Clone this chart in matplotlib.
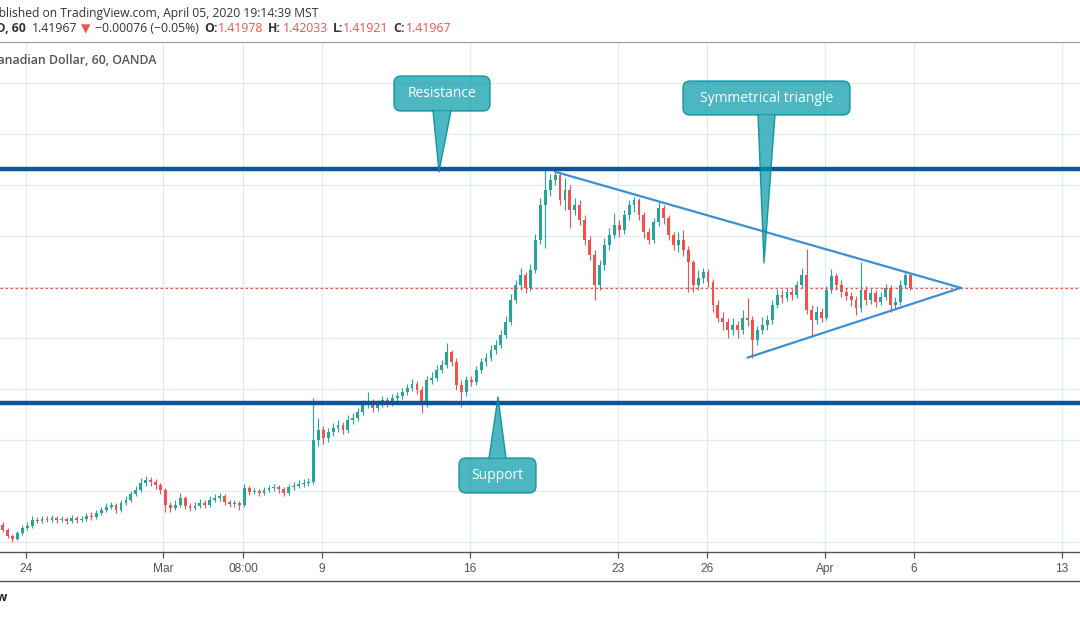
import matplotlib
matplotlib.use("Agg")
import matplotlib.pyplot as plt
import matplotlib.transforms as mtransforms
from matplotlib.patches import FancyBboxPatch, Polygon
from matplotlib.lines import Line2D

# ---------------- data (4-hour candles) ----------------
first_open = 1.3268
closes = [
    1.3248, 1.3225, 1.3213, 1.3237, 1.3256, 1.3264, 1.3288, 1.3284, 1.3291, 1.3288,
    1.3295, 1.3288, 1.3291, 1.3284, 1.3295, 1.3288, 1.3291, 1.3303, 1.3299, 1.3315,
    1.3327, 1.3338, 1.3346, 1.3327, 1.3354, 1.3366, 1.3389, 1.3405, 1.3432, 1.3444,
    1.3436, 1.3425, 1.3405, 1.3346, 1.3334, 1.3346, 1.3374, 1.3342, 1.3334, 1.3342,
    1.3354, 1.3346, 1.3366, 1.3374, 1.3381, 1.3358, 1.3350, 1.3354, 1.3346, 1.3413,
    1.3397, 1.3401, 1.3393, 1.3405, 1.3413, 1.3417, 1.3409, 1.3393, 1.3417, 1.3421,
    1.3428, 1.3432, 1.3436, 1.3601, 1.3640, 1.3609, 1.3633, 1.3648, 1.3660, 1.3640,
    1.3680, 1.3688, 1.3711, 1.3738, 1.3750, 1.3727, 1.3742, 1.3758, 1.3746, 1.3766,
    1.3774, 1.3789, 1.3805, 1.3821, 1.3797, 1.3738, 1.3836, 1.3844, 1.3876, 1.3895,
    1.3946, 1.3907, 1.3817, 1.3789, 1.3836, 1.3829, 1.3876, 1.3907, 1.3923, 1.3954,
    1.3974, 1.4013, 1.4064, 1.4150, 1.4209, 1.4248, 1.4197, 1.4268, 1.4385, 1.4523,
    1.4581, 1.4620, 1.4640, 1.4542, 1.4581, 1.4503, 1.4523, 1.4464, 1.4385, 1.4327,
    1.4209, 1.4287, 1.4366, 1.4405, 1.4444, 1.4424, 1.4483, 1.4523, 1.4542, 1.4483,
    1.4417, 1.4385, 1.4456, 1.4511, 1.4472, 1.4405, 1.4366, 1.4385, 1.4346, 1.4299,
    1.4209, 1.4236, 1.4260, 1.4221, 1.4130, 1.4080, 1.4064, 1.4032, 1.4052, 1.4032,
    1.4080, 1.4072, 1.3993, 1.4032, 1.4052, 1.4072, 1.4130, 1.4170, 1.4158, 1.4181,
    1.4170, 1.4209, 1.4248, 1.4111, 1.4072, 1.4103, 1.4080, 1.4189, 1.4244, 1.4209,
    1.4181, 1.4166, 1.4150, 1.4119, 1.4189, 1.4150, 1.4178, 1.4142, 1.4162, 1.4197,
    1.4130, 1.4142, 1.4209, 1.4248, 1.41967,
]
highs = [
    1.3280, 1.3256, 1.3233, 1.3244, 1.3268, 1.3280, 1.3303, 1.3299, 1.3303, 1.3303,
    1.3307, 1.3303, 1.3303, 1.3299, 1.3307, 1.3303, 1.3303, 1.3315, 1.3319, 1.3327,
    1.3338, 1.3354, 1.3358, 1.3354, 1.3366, 1.3381, 1.3401, 1.3421, 1.3452, 1.3460,
    1.3456, 1.3448, 1.3432, 1.3413, 1.3358, 1.3366, 1.3393, 1.3381, 1.3354, 1.3358,
    1.3370, 1.3366, 1.3381, 1.3389, 1.3393, 1.3389, 1.3366, 1.3366, 1.3362, 1.3428,
    1.3421, 1.3413, 1.3409, 1.3417, 1.3425, 1.3428, 1.3425, 1.3417, 1.3428, 1.3436,
    1.3444, 1.3448, 1.3452, 1.3766, 1.3688, 1.3656, 1.3648, 1.3668, 1.3680, 1.3672,
    1.3699, 1.3707, 1.3727, 1.3758, 1.3789, 1.3762, 1.3758, 1.3774, 1.3770, 1.3782,
    1.3789, 1.3805, 1.3821, 1.3840, 1.3833, 1.3813, 1.3852, 1.3868, 1.3895, 1.3915,
    1.3982, 1.3954, 1.3923, 1.3836, 1.3852, 1.3852, 1.3891, 1.3923, 1.3942, 1.3974,
    1.3993, 1.4032, 1.4087, 1.4174, 1.4228, 1.4276, 1.4260, 1.4291, 1.4409, 1.4550,
    1.4660, 1.4644, 1.4671, 1.4652, 1.4628, 1.4601, 1.4550, 1.4542, 1.4483, 1.4401,
    1.4346, 1.4307, 1.4393, 1.4432, 1.4491, 1.4464, 1.4503, 1.4542, 1.4554, 1.4550,
    1.4495, 1.4432, 1.4472, 1.4534, 1.4523, 1.4483, 1.4417, 1.4417, 1.4424, 1.4362,
    1.4307, 1.4268, 1.4276, 1.4272, 1.4232, 1.4150, 1.4103, 1.4080, 1.4080, 1.4068,
    1.4111, 1.4158, 1.4087, 1.4048, 1.4083, 1.4091, 1.4150, 1.4193, 1.4189, 1.4197,
    1.4193, 1.4225, 1.4276, 1.4350, 1.4130, 1.4127, 1.4119, 1.4205, 1.4272, 1.4256,
    1.4228, 1.4197, 1.4181, 1.4166, 1.4299, 1.4205, 1.4197, 1.4189, 1.4181, 1.4213,
    1.4209, 1.4162, 1.4228, 1.4260, 1.4256,
]
lows = [
    1.3240, 1.3217, 1.3201, 1.3209, 1.3229, 1.3248, 1.3256, 1.3276, 1.3276, 1.3280,
    1.3280, 1.3276, 1.3280, 1.3272, 1.3276, 1.3276, 1.3280, 1.3284, 1.3288, 1.3291,
    1.3307, 1.3319, 1.3331, 1.3315, 1.3319, 1.3346, 1.3358, 1.3381, 1.3397, 1.3421,
    1.3421, 1.3409, 1.3389, 1.3319, 1.3319, 1.3327, 1.3338, 1.3331, 1.3323, 1.3327,
    1.3334, 1.3334, 1.3338, 1.3358, 1.3362, 1.3346, 1.3338, 1.3338, 1.3327, 1.3338,
    1.3385, 1.3389, 1.3381, 1.3385, 1.3397, 1.3401, 1.3393, 1.3381, 1.3385, 1.3405,
    1.3413, 1.3417, 1.3421, 1.3428, 1.3578, 1.3586, 1.3593, 1.3617, 1.3633, 1.3625,
    1.3629, 1.3664, 1.3676, 1.3699, 1.3727, 1.3711, 1.3715, 1.3731, 1.3731, 1.3735,
    1.3750, 1.3762, 1.3778, 1.3793, 1.3782, 1.3707, 1.3731, 1.3821, 1.3833, 1.3864,
    1.3884, 1.3891, 1.3797, 1.3731, 1.3774, 1.3813, 1.3817, 1.3864, 1.3891, 1.3911,
    1.3938, 1.3962, 1.4001, 1.4052, 1.4138, 1.4189, 1.4178, 1.4185, 1.4256, 1.4370,
    1.4354, 1.4558, 1.4601, 1.4523, 1.4503, 1.4432, 1.4483, 1.4444, 1.4366, 1.4307,
    1.4150, 1.4189, 1.4268, 1.4346, 1.4393, 1.4397, 1.4409, 1.4464, 1.4495, 1.4464,
    1.4393, 1.4370, 1.4374, 1.4440, 1.4448, 1.4385, 1.4346, 1.4338, 1.4323, 1.4181,
    1.4181, 1.4189, 1.4217, 1.4201, 1.4103, 1.4064, 1.4032, 1.4001, 1.4013, 1.4001,
    1.4017, 1.4048, 1.3923, 1.3974, 1.4017, 1.4032, 1.4056, 1.4119, 1.4138, 1.4146,
    1.4150, 1.4158, 1.4197, 1.4095, 1.4005, 1.4056, 1.4064, 1.4072, 1.4178, 1.4189,
    1.4162, 1.4150, 1.4127, 1.4091, 1.4103, 1.4130, 1.4134, 1.4123, 1.4130, 1.4150,
    1.4103, 1.4119, 1.4130, 1.4197, 1.4189,
]
first_bar = -19          # hourly-bar index of the first 4h candle (Feb 24 00:00 = 0)
bar_step = 4

tick_bars = [0, 111, 176, 240, 360, 480, 552, 648, 720, 840]
tick_labels = ["24", "Mar", "08:00", "9", "16", "23", "26", "Apr", "6", "13"]
price_grid = [1.32, 1.34, 1.36, 1.38, 1.40, 1.42, 1.44, 1.46, 1.48, 1.50]

resistance = 1.4663
support = 1.3746
last_price = 1.41967
tri_upper_x = [429, 758]
tri_upper_y = [1.4652, 1.41967]
tri_lower_x = [585, 758]
tri_lower_y = [1.3923, 1.41967]

# ---------------- figure ----------------
W, H = 1080, 618
fig = plt.figure(figsize=(W / 100, H / 100), dpi=100)
fig.patch.set_facecolor("white")
# pixel coordinates measured from the top-left corner of the picture
px = mtransforms.Affine2D().scale(1 / W, -1 / H).translate(0, 1) + fig.transFigure
# pixel coordinates measured from the bottom-left corner (for rounded boxes)
pxu = mtransforms.Affine2D().scale(1 / W, 1 / H) + fig.transFigure

ax = fig.add_axes([0, (H - 552) / H, 1, (552 - 42) / H])
ax.set_xlim(-21.1, 854.6)
ax.set_ylim(1.31608, 1.51608)

UP, DOWN = "#26a69a", "#ef5350"
GRID = "#e1ecf2"
DARK = "#50535e"

for g in price_grid:
    ax.axhline(g, color=GRID, lw=0.9, zorder=0)
for t in tick_bars:
    ax.axvline(t, color=GRID, lw=0.9, zorder=0)

opens = [first_open] + closes[:-1]
for i, (o, h, l, c) in enumerate(zip(opens, highs, lows, closes)):
    x = first_bar + bar_step * i
    col = UP if c >= o else DOWN
    ax.vlines(x, l, h, color=col, lw=0.8, zorder=2)
    body = max(abs(c - o), 0.00012)
    ax.bar(x, body, bottom=min(o, c), width=2.3, color=col, lw=0, zorder=3)

ax.axhline(resistance, color="#0d5598", lw=3.2, zorder=4)
ax.axhline(support, color="#0d5598", lw=3.2, zorder=4)
ax.axhline(last_price, color="#ef5350", lw=0.9, ls=(0, (2, 2)), zorder=4)
ax.plot(tri_upper_x, tri_upper_y, color="#3d8fd4", lw=1.6, zorder=5, solid_capstyle="round")
ax.plot(tri_lower_x, tri_lower_y, color="#3d8fd4", lw=1.6, zorder=5, solid_capstyle="round")

ax.set_xticks(tick_bars)
ax.set_xticklabels(tick_labels)
ax.set_yticks([])
for s in ("left", "right"):
    ax.spines[s].set_visible(False)
ax.spines["bottom"].set_color(DARK)
ax.spines["top"].set_color("#9598a1")
ax.spines["bottom"].set_linewidth(1.0)
ax.spines["top"].set_linewidth(0.8)
ax.tick_params(axis="x", direction="out", length=4, width=0.9, color=DARK,
               labelcolor=DARK, labelsize=8.6, pad=4)
for lab in ax.get_xticklabels():
    lab.set_fontfamily("Liberation Sans")

# ---------------- callouts ----------------
FILL = (0.0, 0.592, 0.655, 0.70)
EDGE = (0.0, 0.55, 0.60, 0.85)


def callout(x0, y0, x1, y1, base_l, base_r, tip, label):
    # box given in top-left pixel coords (y0 top, y1 bottom)
    box = FancyBboxPatch((x0, H - y1), x1 - x0, y1 - y0,
                         boxstyle="round,pad=0,rounding_size=7",
                         transform=pxu, facecolor=FILL, edgecolor=EDGE,
                         lw=1.0, zorder=8, clip_on=False)
    ax.add_patch(box)
    by = y1 if tip[1] > y1 else y0
    inset = 0.6 if tip[1] > y1 else -0.6
    poly = Polygon([(base_l, by + inset), tip, (base_r, by + inset)], closed=True,
                   transform=px, facecolor=FILL, edgecolor="none", zorder=8,
                   clip_on=False)
    ax.add_patch(poly)
    ax.add_line(Line2D([base_l, tip[0], base_r], [by, tip[1], by], transform=px,
                       color=EDGE, lw=1.0, zorder=8))
    ax.text((x0 + x1) / 2, (y0 + y1) / 2, label, transform=px, ha="center",
            va="center", color="white", fontsize=10, family="Open Sans",
            zorder=9)


callout(394, 76, 490, 111, 433, 451, (439, 172), "Resistance")
callout(683, 81, 850, 115, 758, 775, (764, 263), "Symmetrical triangle")
callout(459, 458, 536, 493, 489, 506, (498, 397), "Support")

# ---------------- header / footer text ----------------
TXT = "#333333"
fig.text(318, 13, "Published on TradingView.com, April 05, 2020 19:14:39 MST",
         transform=px, ha="right", va="center", fontsize=8.7, color=TXT,
         family="Open Sans")
fig.text(26, 29, "USDCAD, 60", transform=px, ha="right", va="center",
         fontsize=8.8, color=TXT, family="Open Sans", weight="bold")
segments = [
    (32, "1.41967", TXT, "normal"),
    (81, "\u25BC", "#ef5350", "normal"),
    (95, "\u22120.00076 (\u22120.05%)", TXT, "normal"),
    (204, "O:", TXT, "bold"),
    (218, "1.41978", "#ef5350", "normal"),
    (268, "H:", TXT, "bold"),
    (283, "1.42033", "#ef5350", "normal"),
    (333, "L:", TXT, "bold"),
    (343, "1.41921", "#ef5350", "normal"),
    (393, "C:", TXT, "bold"),
    (406, "1.41967", "#ef5350", "normal"),
]
for x, s, c, w in segments:
    fig.text(x, 29, s, transform=px, ha="left", va="center", fontsize=8.8,
             color=c, weight=w, family=["Open Sans", "DejaVu Sans"])

fig.text(156, 60, "U.S. Dollar/Canadian Dollar, 60, OANDA", transform=px,
         ha="right", va="center", fontsize=8.9, color="#555555",
         family="Open Sans", weight="semibold")

fig.add_artist(Line2D([0, W], [581, 581], transform=px, color=DARK, lw=1.0))
fig.text(8, 598, "TradingView", transform=px, ha="right", va="center",
         fontsize=9, color="#222222", family="Open Sans", weight="bold")

fig.savefig("out.png", dpi=100, facecolor="white")
